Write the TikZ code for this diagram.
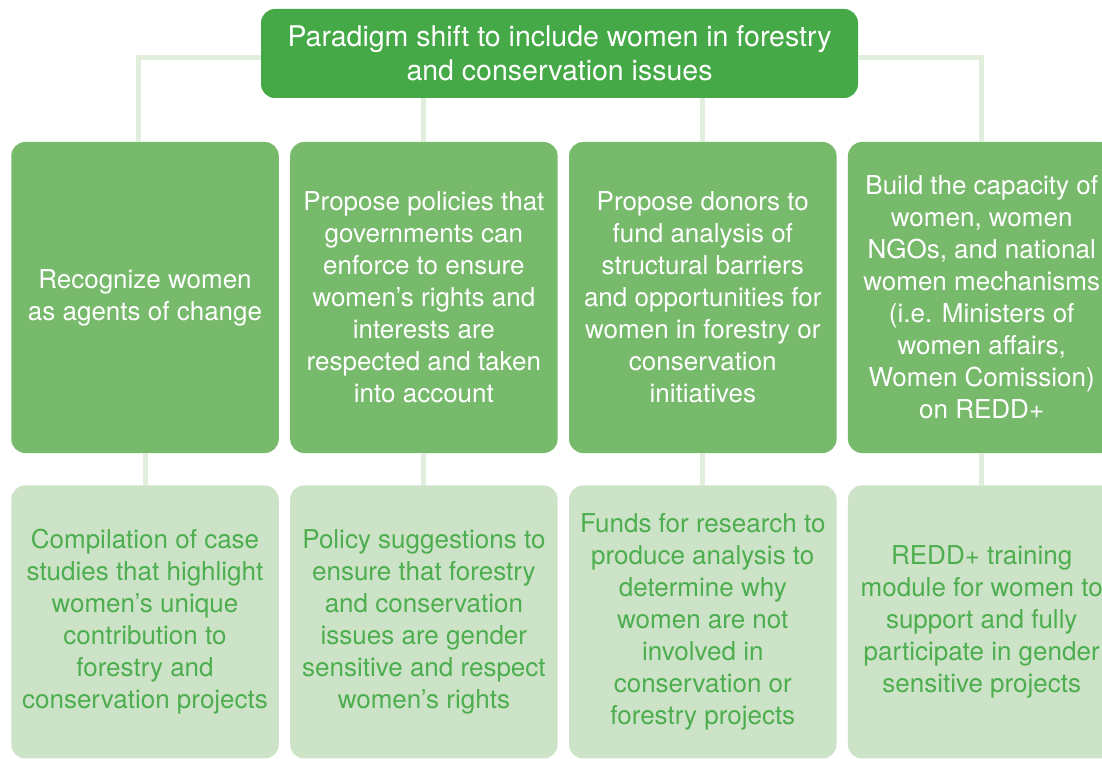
\documentclass[tikz,border=0pt]{standalone}
\usepackage{fontspec}
\setmainfont{TeX Gyre Heros}
\usetikzlibrary{positioning}

\definecolor{goalgreen}{HTML}{46A947}
\definecolor{actgreen}{HTML}{78BA6C}
\definecolor{outgreen}{HTML}{CDE3C7}
\definecolor{linkgreen}{HTML}{E0EEDC}
\definecolor{outtext}{HTML}{4DAE4F}

\begin{document}
\begin{tikzpicture}[
        x=1pt, y=1pt,
        box/.style={align=center, inner sep=0pt, rounded corners=14pt, font=\fontsize{26}{32}\selectfont},
        goal/.style={box, fill=goalgreen, text=white, minimum width=597pt, minimum height=89pt, font=\fontsize{28.5}{34}\selectfont},
        action/.style={box, fill=actgreen, text=white, minimum width=267.5pt, minimum height=311pt},
        result/.style={box, fill=outgreen, text=outtext, minimum width=267.5pt, minimum height=273pt},
        link/.style={draw=linkgreen, line width=5pt}
      ]

      \useasboundingbox (0,0) rectangle (1102,-759);
      \clip (0,0) rectangle (1102,-759);

      \node (P) at (559.5, -53.5) [goal] {Paradigm shift to include women in forestry\\and conservation issues};

      \node (A1) at (145, -297.5) [action] {Recognize women\\as agents of change};
      \node (A2) [node distance=11pt, right=of A1, action] {Propose policies that\\governments can\\enforce to ensure\\women’s rights and\\interests are\\respected and taken\\into account};
      \node (A3) [node distance=11pt, right=of A2, action] {Propose donors to\\fund analysis of\\structural barriers\\and opportunities for\\women in forestry or\\conservation\\initiatives};
      \node (A4) [node distance=11pt, right=of A3, action] {Build the capacity of\\women, women\\NGOs, and national\\women mechanisms\\(i.e. Ministers of\\women affairs,\\Women Comission)\\on REDD+};

      \node (O1) [node distance=32pt, below=of A1, result] {Compilation of case\\studies that highlight\\women’s unique\\contribution to\\forestry and\\conservation projects};
      \node (O2) [node distance=32pt, below=of A2, result] {Policy suggestions to\\ensure that forestry\\and conservation\\issues are gender\\sensitive and respect\\women’s rights};
      \node (O3) [node distance=32pt, below=of A3, result] {Funds for research to\\produce analysis to\\determine why\\women are not\\involved in\\conservation or\\forestry projects};
      \node (O4) [node distance=32pt, below=of A4, result] {REDD+ training\\module for women to\\support and fully\\participate in gender\\sensitive projects};

      \draw[link] ([yshift=-4pt]P.west) -| ([xshift=-7pt]A1.north);
      \draw[link] ([yshift=-4pt]P.east) -| (A4.north);
      \draw[link] (A2.north |- P.south) -- (A2.north);
      \draw[link] (A3.north |- P.south) -- (A3.north);

      \draw[link] (A1.south) -- (O1.north);
      \draw[link] (A2.south) -- (O2.north);
      \draw[link] (A3.south) -- (O3.north);
      \draw[link] (A4.south) -- (O4.north);
    \end{tikzpicture}
\end{document}
